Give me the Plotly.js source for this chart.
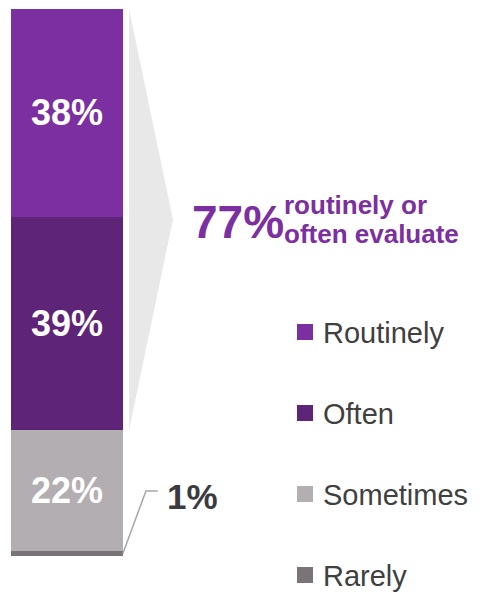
<!DOCTYPE html>
<html>
<head>
<meta charset="utf-8">
<script src="https://cdn.plot.ly/plotly-3.0.1.min.js"></script>
<style>html,body{margin:0;padding:0;background:#fff;}#chart{width:484px;height:592px;}</style>
</head>
<body>
<div id="chart"></div>
<script>
// Data (stack order bottom -> top)
const categories = ["Rarely", "Sometimes", "Often", "Routinely"];
const values = [1, 22, 39, 38];
const colors = ["#7A7479", "#B2AEB1", "#5E2478", "#7B2FA0"];
const summaryValue = 77;
const summaryLine1 = "routinely or";
const summaryLine2 = "often evaluate";

const FONT = "Arial, 'Liberation Sans', sans-serif";
const W = 484, H = 592;

const traces = [];
categories.forEach((c, i) => {
  traces.push({
    type: "bar",
    name: c,
    x: [0],
    y: [values[i]],
    width: [1],
    marker: {color: colors[i], line: {width: 0}},
    text: [c === "Rarely" ? "" : values[i] + "%"],
    textposition: "inside",
    insidetextanchor: "middle",
    constraintext: "none",
    textfont: {color: "#ffffff", size: 36, family: FONT, weight: "bold"},
    showlegend: false,
    hoverinfo: "skip"
  });
});

// funnel triangle spanning Often + Routinely
const total = values.reduce((a, b) => a + b, 0);
const lowTop = values[0] + values[1];
const mid = (total + lowTop) / 2;
traces.push({
  type: "scatter",
  mode: "lines",
  x: [0.554, 0.946, 0.554, 0.554],
  y: [total, mid, lowTop, total],
  fill: "toself",
  fillcolor: "#E8E8E8",
  line: {width: 0, color: "#E8E8E8"},
  showlegend: false,
  hoverinfo: "skip"
});

// leader line for the small "Rarely" segment
traces.push({
  type: "scatter",
  mode: "lines",
  x: [0.5, 0.705, 0.81],
  y: [values[0] / 2, 11.9, 11.9],
  line: {width: 1.5, color: "#A6A6A6"},
  showlegend: false,
  hoverinfo: "skip"
});

// manual legend (top to bottom: Routinely, Often, Sometimes, Rarely)
const shapes = [];
const annotations = [];
const legendOrder = categories.slice().reverse();
legendOrder.forEach((c, k) => {
  const idx = categories.indexOf(c);
  const cy = 332 + k * 81;
  shapes.push({type: "rect", xref: "paper", yref: "paper",
    x0: 297 / W, x1: 313 / W, y0: 1 - (cy - 8) / H, y1: 1 - (cy + 8) / H,
    fillcolor: colors[idx], line: {width: 0}});
  annotations.push({xref: "paper", yref: "paper", x: 321 / W, y: 1 - (cy + 1) / H,
    xanchor: "left", yanchor: "middle", text: c, showarrow: false,
    font: {size: 29, family: FONT, color: "#404040"}});
});

annotations.push(
  {xref: "paper", yref: "paper", x: 190 / W, y: 1 - 222 / H, xanchor: "left", yanchor: "middle",
   text: "<b>" + summaryValue + "%</b>", showarrow: false,
   font: {size: 46, family: FONT, color: "#7B2FA0"}},
  {xref: "paper", yref: "paper", x: 282 / W, y: 1 - 205 / H, xanchor: "left", yanchor: "middle",
   text: "<b>" + summaryLine1 + "</b>", showarrow: false,
   font: {size: 26, family: FONT, color: "#7B2FA0"}},
  {xref: "paper", yref: "paper", x: 282 / W, y: 1 - 234 / H, xanchor: "left", yanchor: "middle",
   text: "<b>" + summaryLine2 + "</b>", showarrow: false,
   font: {size: 26, family: FONT, color: "#7B2FA0"}},
  {xref: "paper", yref: "paper", x: 165 / W, y: 1 - 496 / H, xanchor: "left", yanchor: "middle",
   text: "<b>" + values[0] + "%</b>", showarrow: false,
   font: {size: 35, family: FONT, color: "#3B3B3F"}}
);

const layout = {
  width: W,
  height: H,
  margin: {l: 0, r: 0, t: 0, b: 0},
  paper_bgcolor: "#ffffff",
  plot_bgcolor: "#ffffff",
  barmode: "stack",
  showlegend: false,
  xaxis: {range: [-0.598, 3.723], domain: [0, 1], visible: false, fixedrange: true},
  yaxis: {range: [0, 100], domain: [0.0608, 0.9848], visible: false, fixedrange: true},
  shapes: shapes,
  annotations: annotations
};

Plotly.newPlot("chart", traces, layout, {staticPlot: true, displayModeBar: false});
</script>
</body>
</html>
